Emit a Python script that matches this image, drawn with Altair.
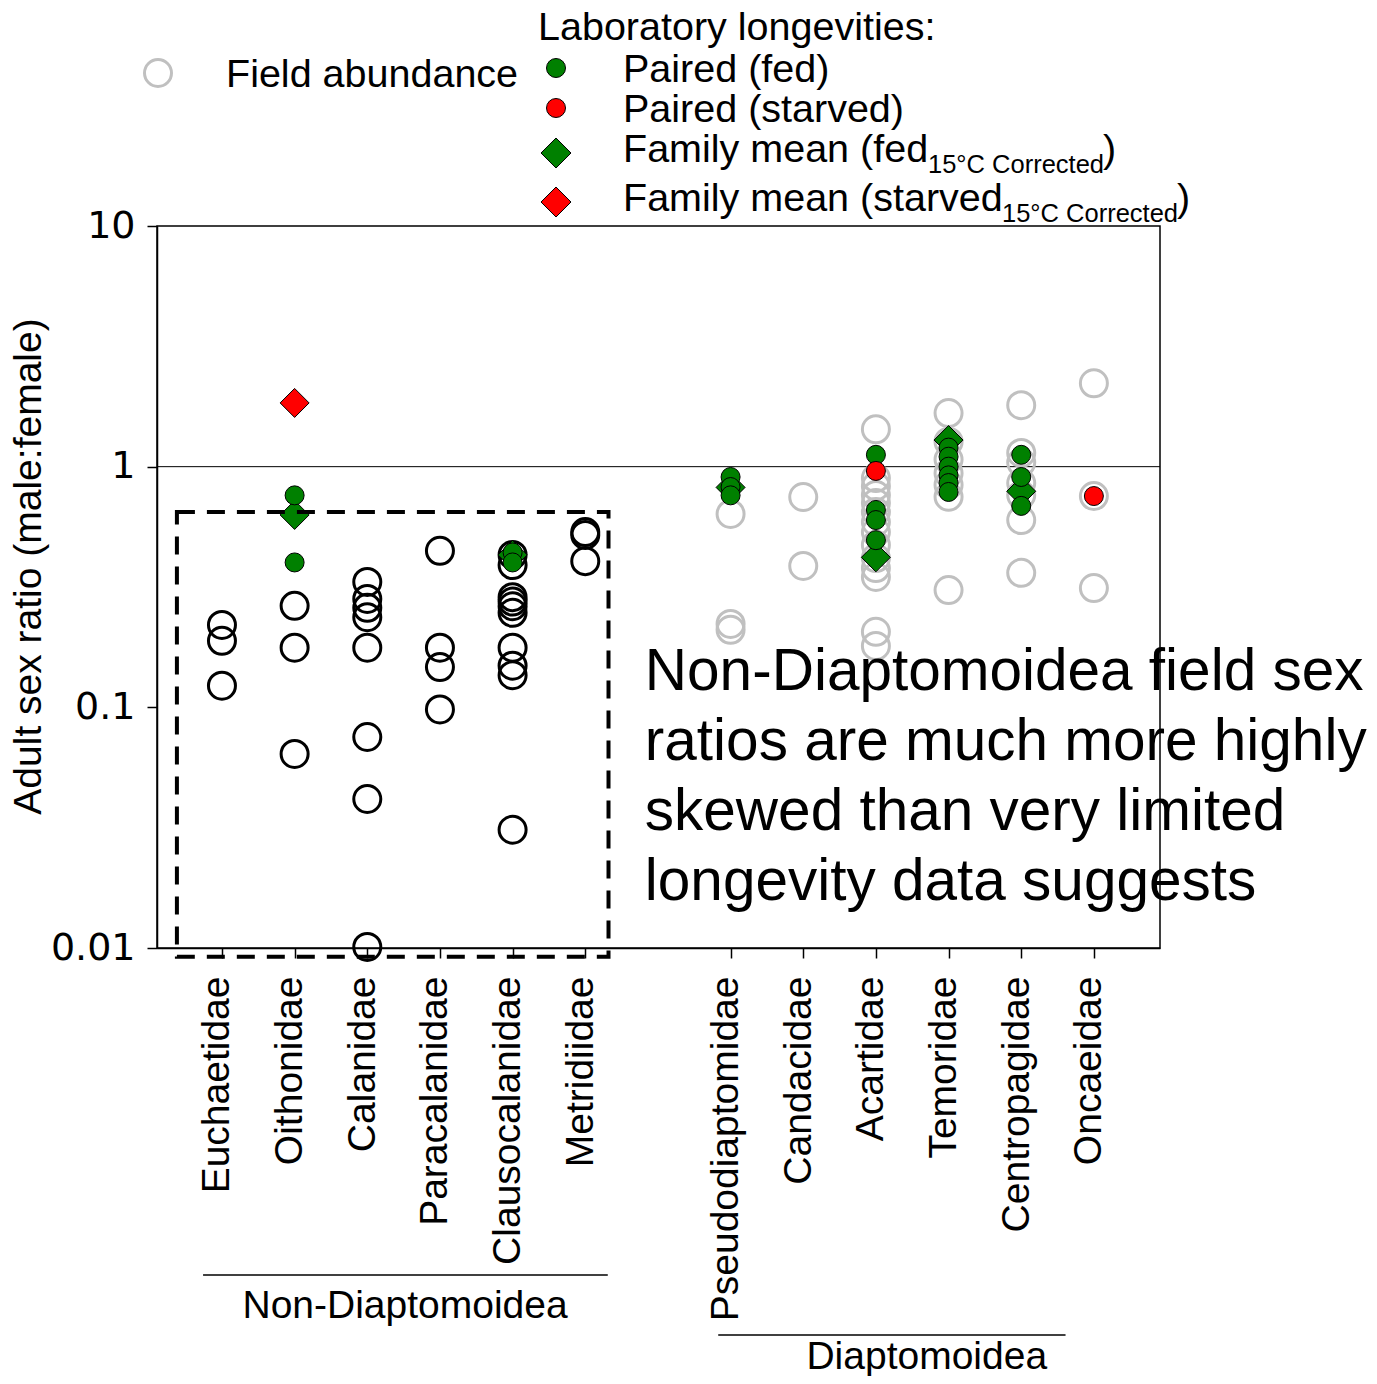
import altair as alt
import pandas as pd

# ---------------- data ----------------
families = ["Euchaetidae", "Oithonidae", "Calanidae", "Paracalanidae", "Clausocalanidae", "Metridiidae",
            "Pseudodiaptomidae", "Candacidae", "Acartidae", "Temoridae", "Centropagidae", "Oncaeidae"]
family_pos = [0, 1, 2, 3, 4, 5, 7, 8, 9, 10, 11, 12]
superfamily = ["Non-Diaptomoidea"] * 6 + ["Diaptomoidea"] * 6

field_abundance = [
    [0.22, 0.189, 0.123],
    [0.264, 0.177, 0.064],
    [0.332, 0.282, 0.259, 0.237, 0.177, 0.0753, 0.0416, 0.0101],
    [0.447, 0.177, 0.147, 0.098],
    [0.43, 0.39, 0.287, 0.275, 0.263, 0.247, 0.177, 0.149, 0.136, 0.031],
    [0.535, 0.52, 0.405],
    [0.636, 0.222, 0.21],
    [0.748, 0.387],
    [1.43, 0.897, 0.83, 0.762, 0.706, 0.648, 0.589, 0.535, 0.473, 0.417, 0.379, 0.348, 0.206, 0.180],
    [1.67, 1.27, 1.07, 0.94, 0.84, 0.75, 0.307],
    [1.80, 1.14, 1.04, 0.855, 0.762, 0.60, 0.362],
    [2.22, 0.755, 0.313],
]
paired_fed = [
    [], [0.76, 0.40], [], [], [0.44, 0.40], [],
    [0.906, 0.823, 0.76], [], [1.12, 0.661, 0.600, 0.495],
    [1.20, 1.10, 1.0, 0.92, 0.855, 0.785], [1.12, 0.906, 0.687], [],
]
paired_starved = [[], [], [], [], [], [], [], [], [0.96], [], [], [0.755]]
family_mean_fed = [[], [0.63], [], [], [0.43], [], [0.82], [], [0.42], [1.29], [0.79], []]
family_mean_starved = [[], [1.84], [], [], [], [], [], [], [], [], [], []]

annotation = ["Non-Diaptomoidea field sex", "ratios are much more highly",
              "skewed than very limited", "longevity data suggests"]

# ---------------- tables ----------------
def long_table(lists, kind):
    rows = []
    for fam, pos, sup, vals in zip(families, family_pos, superfamily, lists):
        for v in vals:
            rows.append({"family": fam, "pos": pos, "group": sup, "ratio": v, "kind": kind})
    return pd.DataFrame(rows)

field_df = long_table(field_abundance, "field")
paired_df = pd.concat([long_table(paired_fed, "fed"), long_table(paired_starved, "starved")], ignore_index=True)
mean_df = pd.concat([long_table(family_mean_fed, "fed"), long_table(family_mean_starved, "starved")], ignore_index=True)

GREEN = "#008000"
RED = "#ff0000"
GRAY = "#c0c0c0"
FONT = "Liberation Sans"

label_list = [""] * 13
for f, p in zip(families, family_pos):
    label_list[p] = f
label_expr = "[" + ",".join("'" + s + "'" for s in label_list) + "][datum.value]"

xscale = alt.Scale(domain=[-0.894, 12.91], nice=False, zero=False)
yscale = alt.Scale(type="log", domain=[0.01, 10], nice=False)

x_axis = alt.Axis(
    values=family_pos, labelExpr=label_expr, title=None, labelAngle=270,
    labelAlign="right", labelBaseline="middle", labelPadding=18, labelOffset=-5,
    labelFont=FONT, labelFontSize=39, labelColor="black", labelOverlap=False,
    labelFlush=False, labelBound=False, labelLimit=1000, tickSize=10, tickWidth=1.5,
    tickColor="black", domainColor="black", domainWidth=1.5, grid=False)
y_axis = alt.Axis(
    values=[0.01, 0.1, 1, 10], format="~g", title="Adult sex ratio (male:female)",
    labelFont="DejaVu Sans", labelFontSize=38, labelColor="black", labelPadding=12,
    tickSize=10, tickWidth=1.5, tickColor="black", domainColor="black", domainWidth=1.5,
    titleFont=FONT, titleFontSize=39, titleFontWeight="normal", titleColor="black",
    titlePadding=2, titleY=340, titleLimit=1000, grid=False)


def X(field):
    return alt.X(field, type="quantitative", scale=xscale, axis=x_axis)


def Y(field):
    return alt.Y(field, type="quantitative", scale=yscale, axis=y_axis)


ref_df = pd.DataFrame({"pos": [-0.894, 12.91], "ratio": [1.0, 1.0]})
ref = alt.Chart(ref_df).mark_line(color="black", strokeWidth=1).encode(x=X("pos"), y=Y("ratio"))

field_layer = alt.Chart(field_df).mark_point(shape="circle", filled=False, size=729, strokeWidth=3,
                                             opacity=1).encode(
    x=X("pos"), y=Y("ratio"),
    stroke=alt.Stroke("group:N", scale=alt.Scale(domain=["Non-Diaptomoidea", "Diaptomoidea"],
                                                 range=["black", GRAY]), legend=None))

mean_layer = alt.Chart(mean_df).mark_point(shape="diamond", filled=True, size=841, stroke="black",
                                           strokeWidth=1, opacity=1).encode(
    x=X("pos"), y=Y("ratio"),
    fill=alt.Fill("kind:N", scale=alt.Scale(domain=["fed", "starved"], range=[GREEN, RED]), legend=None))

paired_layer = alt.Chart(paired_df).mark_point(shape="circle", filled=True, size=361, stroke="black",
                                               strokeWidth=1, opacity=1).encode(
    x=X("pos"), y=Y("ratio"),
    fill=alt.Fill("kind:N", scale=alt.Scale(domain=["fed", "starved"], range=[GREEN, RED]), legend=None))

# dashed box around Non-Diaptomoidea field data
box_df = pd.DataFrame({"x1": [-0.62], "x2": [5.32], "y1": [0.0092], "y2": [0.648]})
box = alt.Chart(box_df).mark_rect(fillOpacity=0, stroke="black", strokeWidth=4,
                                  strokeDash=[18, 12]).encode(
    x=X("x1"), x2="x2:Q", y=Y("y1"), y2="y2:Q")

# annotation
ann = alt.Chart(pd.DataFrame({"pos": [5.82]})).mark_text(
    text=annotation, align="left", baseline="alphabetic", font=FONT, fontSize=58.5,
    lineHeight=70, color="black").encode(x=X("pos"), y=alt.value(464))

# superfamily group labels and lines
grp_lines = pd.DataFrame({"a": [-0.26, 6.83], "b": [5.31, 11.61], "yy": [1049, 1109]})
group_lines = alt.layer(*[
    alt.Chart(grp_lines.iloc[[i]]).mark_rule(color="black", strokeWidth=1.5).encode(
        x=X("a"), x2="b:Q", y=alt.value(int(grp_lines.yy[i])))
    for i in range(2)])
grp_text = [("Non-Diaptomoidea", 2.52, 1092), ("Diaptomoidea", 9.70, 1143)]
group_texts = alt.layer(*[
    alt.Chart(pd.DataFrame({"pos": [p]})).mark_text(text=t, align="center", baseline="alphabetic",
                                                    font=FONT, fontSize=39, color="black").encode(
        x=X("pos"), y=alt.value(yy))
    for t, p, yy in grp_text])

# ---------------- legend ----------------
one = pd.DataFrame({"k": [0]})


def sym(shape, fill, x, y, size, stroke="black", sw=1, filled=True):
    kw = dict(shape=shape, size=size, strokeWidth=sw, opacity=1, filled=filled, stroke=stroke)
    if filled:
        kw["fill"] = fill
    return alt.Chart(one).mark_point(**kw).encode(x=alt.value(x), y=alt.value(y))


def txt(t, x, y, size=39.5):
    return alt.Chart(one).mark_text(text=t, align="left", baseline="alphabetic", font=FONT,
                                    fontSize=size, color="black").encode(x=alt.value(x), y=alt.value(y))


legend = alt.layer(
    sym("circle", None, 1, -153, 729, stroke=GRAY, sw=3, filled=False),
    txt("Field abundance", 69, -139),
    txt("Laboratory longevities:", 381, -186),
    sym("circle", GREEN, 399, -158, 361),
    txt("Paired (fed)", 466, -144),
    sym("circle", RED, 399, -118, 361),
    txt("Paired (starved)", 466, -104),
    sym("diamond", GREEN, 399, -73, 900),
    txt("Family mean (fed", 466, -64),
    txt("15°C Corrected", 771, -53, 25.5),
    txt(")", 946, -64),
    sym("diamond", RED, 399, -24, 900),
    txt("Family mean (starved", 466, -15),
    txt("15°C Corrected", 845, -4, 25.5),
    txt(")", 1020, -15),
)

chart = alt.layer(
    ref, field_layer, mean_layer, paired_layer, box, ann, group_lines, group_texts, legend
).properties(
    width=1003, height=722,
    autosize=alt.AutoSizeParams(type="none"),
    padding={"left": 149, "top": 218, "right": 209, "bottom": 428},
).configure_view(stroke="black", strokeWidth=1.5).configure_axis(grid=False)

chart.save("out.html", embed_options={"renderer": "svg", "actions": False})
